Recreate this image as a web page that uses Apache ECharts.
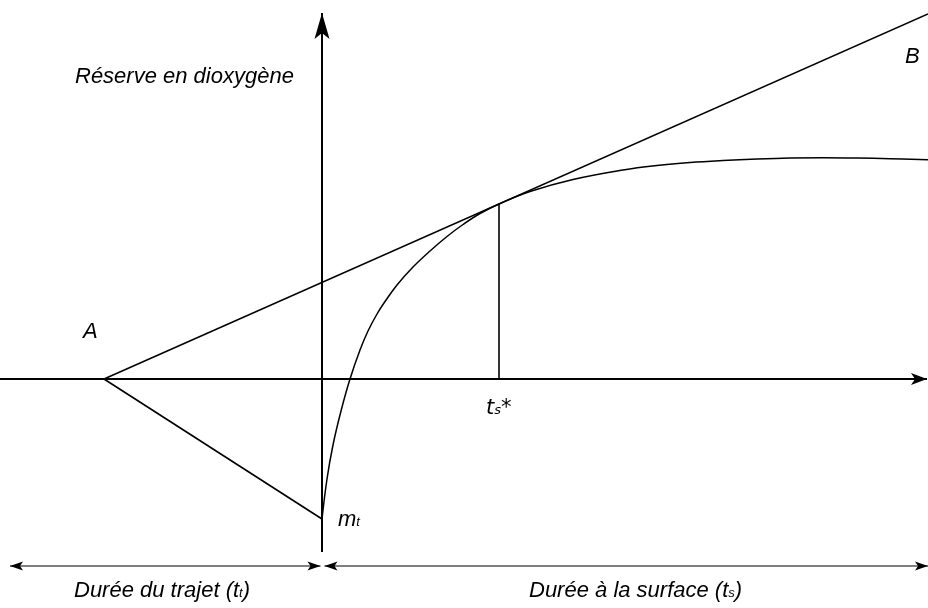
<!DOCTYPE html>
<html>
<head>
<meta charset="utf-8">
<script src="https://cdn.jsdelivr.net/npm/echarts@6/dist/echarts.min.js"></script>
<style>html,body{margin:0;padding:0;background:#fff}#c{width:928px;height:608px}</style>
</head>
<body>
<div id="c"></div>
<script>
// ---- data (diagram units) ----
const pointA = [-21.8, 0];
const pointMt = [0, -14.0];
const tangentEnd = [60.6, 36.5];
const tsStar = [17.7, 17.5];
const curveX = [0, 0.5, 1.1, 1.9, 2.8, 3.8, 4.6, 5.5, 6.2, 7.5, 9.1, 10.8, 12.5, 14.1, 15.8, 17.7, 20.8, 25.1, 30.1, 33.5, 36.8, 40.1, 43.5, 46.8, 50.1, 53.5, 56.8, 60.6];
const curveY = [-14.0, -10.0, -6.6, -3.2, 0, 2.9, 4.8, 6.5, 7.6, 9.4, 11.2, 12.8, 14.25, 15.45, 16.55, 17.5, 18.75, 19.95, 20.9, 21.35, 21.65, 21.85, 22.0, 22.1, 22.13, 22.1, 22.03, 21.93];
const xAxisLine = [-32.2, 0, 60.5, 0];
const yAxisLine = [0, -17.3, 0, 36.6];
const travelSpan = [-31.2, -18.7, -0.15, -18.7];
const surfaceSpan = [0.25, -18.7, 60.6, -18.7];

const curveData = curveX.map((x, i) => [x, curveY[i]]);

// arrow styles (not data): [headAtStart, headAtEnd, length, halfWidth, notch, lineWidth]
const arrowStyles = [
  [0, 1, 16, 6, 4, 2],
  [0, 1, 26, 7.5, 6, 2],
  [1, 1, 13, 4.5, 3, 1.2],
  [1, 1, 13, 4.5, 3, 1.2]
];

const chart = echarts.init(document.getElementById('c'), null, {renderer: 'canvas'});

function head(tip, from, L, W, N) {
  const dx = tip[0] - from[0], dy = tip[1] - from[1];
  const len = Math.sqrt(dx * dx + dy * dy);
  const ux = dx / len, uy = dy / len;
  const nx = -uy, ny = ux;
  return [
    [tip[0], tip[1]],
    [tip[0] - L * ux + W * nx, tip[1] - L * uy + W * ny],
    [tip[0] - (L - N) * ux, tip[1] - (L - N) * uy],
    [tip[0] - L * ux - W * nx, tip[1] - L * uy - W * ny]
  ];
}

const lineStyleBlack = {color: '#000', width: 1.6};
const FONT = '"Liberation Sans", Arial, sans-serif';
const FS = 22;
const subRich = function (fs, lh, pad) {
  return {
    a: {fontFamily: FONT, fontStyle: 'italic', fontSize: fs, lineHeight: lh, fill: '#000'},
    s: {fontFamily: FONT, fontStyle: 'italic', fontSize: 13, lineHeight: lh, verticalAlign: 'bottom', fill: '#000', padding: [0, 0, pad, 0]}
  };
};

chart.setOption({
  animation: false,
  backgroundColor: '#fff',
  grid: {left: 0, right: 0, top: 0, bottom: 0},
  xAxis: {type: 'value', min: -32.2, max: 60.6, show: false},
  yAxis: {type: 'value', min: -22.9, max: 37.9, show: false},
  series: [
    {
      type: 'custom',
      coordinateSystem: 'cartesian2d',
      clip: false,
      silent: true,
      data: [xAxisLine, yAxisLine, travelSpan, surfaceSpan],
      renderItem: function (params, api) {
        const st = arrowStyles[params.dataIndex];
        const p1 = api.coord([api.value(0), api.value(1)]);
        const p2 = api.coord([api.value(2), api.value(3)]);
        const children = [{
          type: 'line',
          shape: {x1: p1[0], y1: p1[1], x2: p2[0], y2: p2[1]},
          style: {stroke: '#000', lineWidth: st[5]}
        }];
        if (st[0]) children.push({type: 'polygon', shape: {points: head(p1, p2, st[2], st[3], st[4])}, style: {fill: '#000'}});
        if (st[1]) children.push({type: 'polygon', shape: {points: head(p2, p1, st[2], st[3], st[4])}, style: {fill: '#000'}});
        return {type: 'group', children: children};
      }
    },
    {
      type: 'line', name: 'tangente', data: [pointA, tangentEnd],
      symbol: 'none', lineStyle: lineStyleBlack, silent: true
    },
    {
      type: 'line', name: 'trajet', data: [pointA, pointMt],
      symbol: 'none', lineStyle: lineStyleBlack, silent: true
    },
    {
      type: 'line', name: 'ts', data: [[tsStar[0], 0], tsStar],
      symbol: 'none', lineStyle: lineStyleBlack, silent: true
    },
    {
      type: 'line', name: 'gain', data: curveData, smooth: 0.4,
      symbol: 'none', lineStyle: {color: '#000', width: 1.5}, silent: true
    }
  ],
  graphic: [
    {type: 'text', left: 75, top: 66, style: {text: 'Réserve en dioxygène', font: 'italic ' + FS + 'px ' + FONT, fill: '#000'}},
    {type: 'text', left: 83, top: 321, style: {text: 'A', font: 'italic ' + FS + 'px ' + FONT, fill: '#000'}},
    {type: 'text', left: 905, top: 46, style: {text: 'B', font: 'italic ' + FS + 'px ' + FONT, fill: '#000'}},
    {type: 'text', left: 486, top: 398, style: {
      text: '{a|t}{s|s}{a|*}',
      rich: {
        a: {fontFamily: '"DejaVu Sans", sans-serif', fontStyle: 'italic', fontSize: 21, lineHeight: 24, fill: '#000'},
        s: {fontFamily: '"DejaVu Sans", sans-serif', fontStyle: 'italic', fontSize: 13, lineHeight: 24, verticalAlign: 'bottom', fill: '#000', padding: [0, 0, 3, 0]}
      }
    }},
    {type: 'text', left: 338, top: 509, style: {text: '{a|m}{s|t}', rich: subRich(22, 26, 4)}},
    {type: 'text', left: 74, top: 580, style: {text: '{a|Durée du trajet (t}{s|t}{a|)}', rich: subRich(FS, 26, 4)}},
    {type: 'text', left: 529, top: 580, style: {text: '{a|Durée à la surface (t}{s|s}{a|)}', rich: subRich(FS, 26, 4)}}
  ]
});
</script>
</body>
</html>
